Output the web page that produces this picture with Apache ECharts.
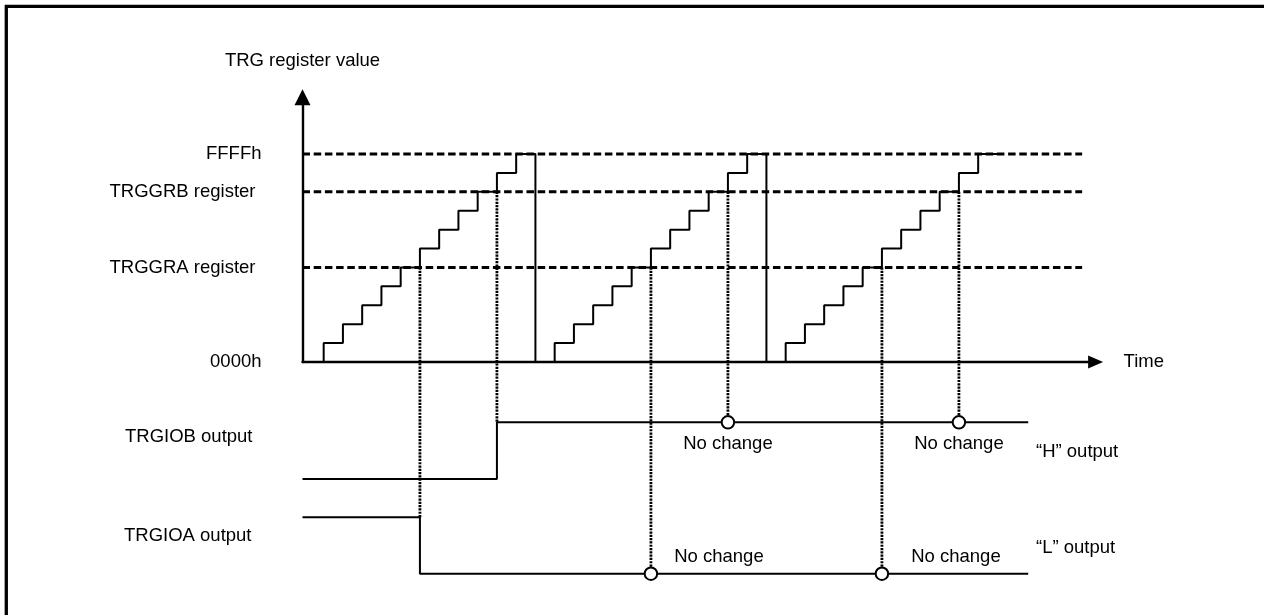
<!DOCTYPE html>
<html><head><meta charset="utf-8">
<script src="https://cdn.jsdelivr.net/npm/echarts@6/dist/echarts.min.js"></script>
<style>html,body{margin:0;padding:0;background:#fff}#c{width:1264px;height:615px}</style>
</head><body><div id="c"></div>
<script>
// ---------------- data ----------------
// TRG counter: time (count clocks) and register value level
const counterTime  = [0,1,2,3,4,5,6,7,8,9,10,11,12,13,14,15,16,17,18,19,20,21,22,23,24,25,26,27,28,29,30,31,32,33,34,35,36];
const counterValue = [0,1,2,3,4,5,6,7,8,9,10,11, 0,1,2,3,4,5,6,7,8,9,10,11, 0,1,2,3,4,5,6,7,8,9,10,11,11];
// value axis labels
const levelValues = [0, 5, 9, 11];
const levelNames  = ['0000h', 'TRGGRA register', 'TRGGRB register', 'FFFFh'];
const compareA = 5, compareB = 9, counterMax = 11;
const refLineFrom = -0.1, refLineTo = 40.4;
// output waveforms (0 = "L", 1 = "H")
const trgiobTime  = [-0.1, 10, 10, 37.6];
const trgiobLevel = [0, 0, 1, 1];
const trgioaTime  = [-0.1, 6, 6, 37.6];
const trgioaLevel = [1, 1, 0, 0];
// compare-match instants and the output level where the dotted marker ends
const matchATime = [6, 18, 30];
const matchAEnd  = [1, 0, 0];
const matchBTime = [10, 22, 34];
const matchBEnd  = [1, 1, 1];
// "No change" points
const noChangeBTime = [22, 34];
const noChangeATime = [18, 30];
const noChangeText = 'No change';

// ---------------- style / layout ----------------
const FONT = '"Liberation Sans", Arial, Helvetica, sans-serif';
const FS = 18.5;
const X_MIN = -0.1, X_MAX = 41.1;
const LEFT = 302.5, WIDTH = 793.1;
const txt = {color:'#000', fontFamily: FONT, fontSize: FS};

const zip = (a, b) => a.map((v, i) => [v, b[i]]);
const hiddenX = i => ({gridIndex:i, type:'value', min:X_MIN, max:X_MAX, show:false});
const hiddenY = i => ({gridIndex:i, type:'value', min:0, max:1, show:false});

const chart = echarts.init(document.getElementById('c'), null, {renderer:'canvas'});

const labelStyle = Object.assign({textBorderWidth:0, textShadowBlur:0, opacity:1}, txt);

const option = {
  animation: false,
  backgroundColor: '#fff',
  grid: [
    {left: LEFT, width: WIDTH, top: 97.26, height: 264.74},
    {left: LEFT, width: WIDTH, top: 422.3, height: 56.7},
    {left: LEFT, width: WIDTH, top: 517.3, height: 56.4}
  ],
  xAxis: [
    {gridIndex:0, type:'value', min:X_MIN, max:X_MAX,
     axisLine:{show:true, onZero:true, symbol:['none','triangle'], symbolSize:[13,15], lineStyle:{color:'#000', width:2.4}},
     axisTick:{show:false}, axisLabel:{show:false}, splitLine:{show:false},
     name:'Time', nameLocation:'end', nameGap:28, nameTextStyle:Object.assign({}, txt)},
    hiddenX(1), hiddenX(2)
  ],
  yAxis: [
    {gridIndex:0, type:'value', min:0, max:14, interval:1,
     axisLine:{show:true, onZero:false, symbol:['none','triangle'], symbolSize:[16,16], lineStyle:{color:'#000', width:2.4}},
     axisTick:{show:false}, splitLine:{show:false},
     axisLabel:{show:true, interval:0, margin:41, color:'#000', fontFamily:FONT, fontSize:FS,
       formatter: v => {
         const i = levelValues.indexOf(v);
         if (i < 0) return '';
         const n = levelNames[i];
         return n.indexOf('register') >= 0 ? '{reg|' + n + '}' : '{hex|' + n + '}';
       },
       rich:{
         reg:{color:'#000', fontFamily:FONT, fontSize:FS, padding:[0,6,0,0]},
         hex:{color:'#000', fontFamily:FONT, fontSize:FS}
       }},
     name:'TRG register value', nameLocation:'end', nameGap:27,
     nameTextStyle:Object.assign({align:'center'}, txt)},
    hiddenY(1), hiddenY(2)
  ],
  series: [
    {name:'TRG counter', type:'line', xAxisIndex:0, yAxisIndex:0, step:'end', symbol:'none', clip:false,
     data: zip(counterTime, counterValue), lineStyle:{color:'#000', width:2}, z:3},
    {name:'FFFFh', type:'line', xAxisIndex:0, yAxisIndex:0, symbol:'none', clip:false,
     data:[[refLineFrom, counterMax],[refLineTo, counterMax]], lineStyle:{color:'#000', width:3, type:[7.5,3.7]}},
    {name:'TRGGRB', type:'line', xAxisIndex:0, yAxisIndex:0, symbol:'none', clip:false,
     data:[[refLineFrom, compareB],[refLineTo, compareB]], lineStyle:{color:'#000', width:3, type:[7.5,3.7]}},
    {name:'TRGGRA', type:'line', xAxisIndex:0, yAxisIndex:0, symbol:'none', clip:false,
     data:[[refLineFrom, compareA],[refLineTo, compareA]], lineStyle:{color:'#000', width:3, type:[7.5,3.7]}},
    {name:'TRGIOB output', type:'line', xAxisIndex:1, yAxisIndex:1, symbol:'none', clip:false,
     data: zip(trgiobTime, trgiobLevel), lineStyle:{color:'#000', width:2}},
    {name:'TRGIOA output', type:'line', xAxisIndex:2, yAxisIndex:2, symbol:'none', clip:false,
     data: zip(trgioaTime, trgioaLevel), lineStyle:{color:'#000', width:2}},
    {name:'TRGIOB no change', type:'scatter', xAxisIndex:1, yAxisIndex:1, symbol:'circle', symbolSize:12.5, clip:false, z:5,
     itemStyle:{color:'#fff', borderColor:'#000', borderWidth:2, opacity:1},
     label:Object.assign({show:true, position:'inside', formatter:noChangeText, offset:[0,22]}, labelStyle),
     emphasis:{disabled:true},
     data: noChangeBTime.map(t => [t, 1])},
    {name:'TRGIOA no change', type:'scatter', xAxisIndex:2, yAxisIndex:2, symbol:'circle', symbolSize:12.5, clip:false, z:5,
     itemStyle:{color:'#fff', borderColor:'#000', borderWidth:2, opacity:1},
     label:Object.assign({show:true, position:'inside', formatter:noChangeText}, labelStyle),
     emphasis:{disabled:true},
     data: noChangeATime.map((t, i) => ({value:[t, 0], label:{offset: i === 0 ? [68,-16.4] : [74,-16.4]}}))}
  ]
};
chart.setOption(option);

// dotted compare-match markers, placed through the axes' own scales
const elements = [
  {type:'rect', shape:{x:6.3, y:6.3, width:1400, height:800}, style:{fill:null, stroke:'#000', lineWidth:3.3}, z:0},
  {type:'text', x:125, y:436.7, style:{text:'TRGIOB output', font: FS + 'px ' + FONT, fill:'#000', verticalAlign:'middle'}},
  {type:'text', x:124, y:535.7, style:{text:'TRGIOA output', font: FS + 'px ' + FONT, fill:'#000', verticalAlign:'middle'}},
  {type:'text', x:1036, y:451.7, style:{text:'\u201CH\u201D output', font: FS + 'px ' + FONT, fill:'#000', verticalAlign:'middle'}},
  {type:'text', x:1036, y:548.3, style:{text:'\u201CL\u201D output', font: FS + 'px ' + FONT, fill:'#000', verticalAlign:'middle'}}
];
const dotted = (p1, p2) => ({type:'line', z:1, silent:true,
  shape:{x1:p1[0], y1:p1[1], x2:p2[0], y2:p2[1]},
  style:{stroke:'#000', lineWidth:2.8, lineDash:[2.2,1.1]}});
matchATime.forEach((t, i) => {
  const top = chart.convertToPixel({xAxisIndex:0, yAxisIndex:0}, [t, compareA]);
  const bot = chart.convertToPixel({xAxisIndex:2, yAxisIndex:2}, [t, matchAEnd[i]]);
  elements.push(dotted(top, bot));
});
matchBTime.forEach((t, i) => {
  const top = chart.convertToPixel({xAxisIndex:0, yAxisIndex:0}, [t, compareB]);
  const bot = chart.convertToPixel({xAxisIndex:1, yAxisIndex:1}, [t, matchBEnd[i]]);
  elements.push(dotted(top, bot));
});
chart.setOption({graphic:{elements: elements}});
</script>
</body></html>
